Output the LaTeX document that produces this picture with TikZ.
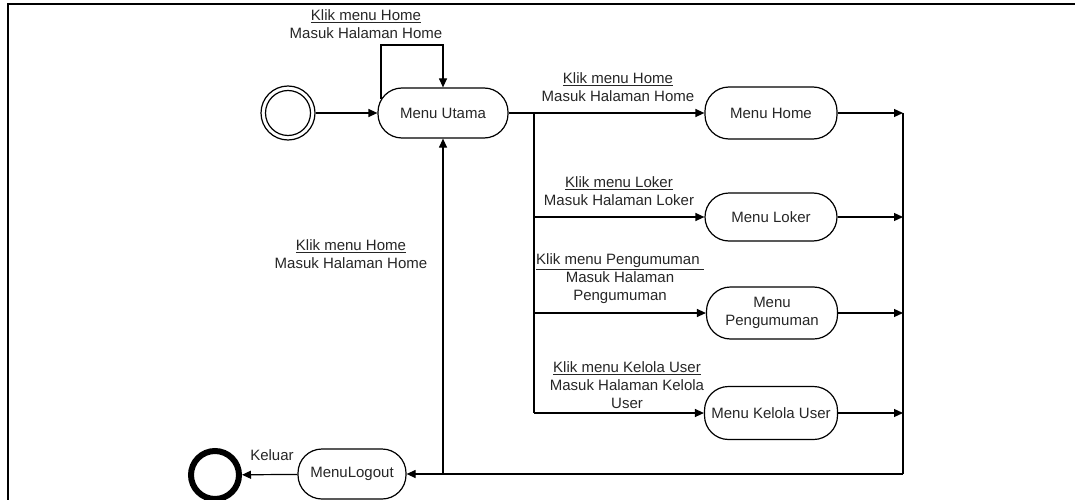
\documentclass[tikz,border=0pt]{standalone}
\usepackage{fontspec}
\setmainfont{Liberation Sans}
\usetikzlibrary{arrows.meta,calc}
\begin{document}
\begin{tikzpicture}[x=1pt,y=-1pt,
  every node/.style={font=\fontsize{15pt}{18pt}\selectfont, text=black!85},
  state/.style={draw, line width=1.2pt, rounded corners=24pt, align=center, inner sep=2pt},
  lbl/.style={align=center, inner sep=0pt},
  line/.style={line width=1.2pt, draw=black},
  arr/.style={line, -{Triangle[length=9pt,width=8pt]}}]
\useasboundingbox (0,0) rectangle (1075,500);
% frame (partial)
\draw[line width=1.5pt] (8,500) -- (8,4) -- (1075,4);

% nodes
\node[circle, draw, line width=1.2pt, minimum size=54pt, inner sep=0pt] (init) at (288,113) {};
\draw[line width=1.2pt] (init.center) circle (22.5);
\node[state, minimum width=130pt, minimum height=50pt] (utama) at (443,113) {Menu Utama};
\node[state, minimum width=132pt, minimum height=52pt] (home) at (771,113) {Menu Home};
\node[state, minimum width=132pt, minimum height=48pt] (loker) at (771,217) {Menu Loker};
\node[state, minimum width=131pt, minimum height=52pt] (peng) at (772,313) {Menu\\Pengumuman};
\node[state, minimum width=133pt, minimum height=53pt] (kelola) at (771,413) {Menu Kelola User};
\node[state, minimum width=108pt, minimum height=50pt] (logout) at (352,474) {MenuLogout};
\node[circle, draw, line width=6pt, minimum size=48pt, inner sep=0pt] (final) at (215,475) {};

% labels
\node[lbl] (l0) at (366,24) {\underline{Klik menu Home}\\Masuk Halaman Home};
\node[lbl] (l1) at (618,87) {\underline{Klik menu Home}\\Masuk Halaman Home};
\node[lbl] (l2) at (619,191) {\underline{Klik menu Loker}\\Masuk Halaman Loker};
\node[lbl] (l3) at (620,279) {\underline{Klik menu Pengumuman\ }\\Masuk Halaman\\Pengumuman};
\node[lbl] (l4) at (627,385) {\underline{Klik menu Kelola User}\\Masuk Halaman Kelola\\User};
\node[lbl] (l5) at (351,254) {\underline{Klik menu Home}\\Masuk Halaman Home};
\node[lbl] (l6) at (272,455) {Keluar};

% coordinates
\coordinate (loopstart) at (381,99);
\coordinate (looptop) at (381,45);
\coordinate (busT) at (534,113);
\coordinate (busB) at (534,413);
\coordinate (rbT) at (903,113);
\coordinate (rbB) at (903,474);

% connectors
\draw[arr] (init) -- (utama);
\draw[arr] (loopstart) -- (looptop) -| (utama.north);
\draw[arr] (utama) -- (home);
\draw[line] (busT) -- (busB);
\draw[arr] (busT |- loker) -- (loker);
\draw[arr] (busT |- peng) -- (peng);
\draw[arr] (busB) -- (kelola);
\draw[arr] (home) -- (home -| rbT);
\draw[arr] (loker) -- (loker -| rbT);
\draw[arr] (peng) -- (peng -| rbT);
\draw[arr] (kelola) -- (kelola -| rbT);
\draw[line] (rbT) -- (rbB);
\draw[arr] (rbB) -- (logout);
\draw[arr] (utama |- rbB) -- (utama.south);
\draw[arr] (logout) -- (final);
\end{tikzpicture}
\end{document}
